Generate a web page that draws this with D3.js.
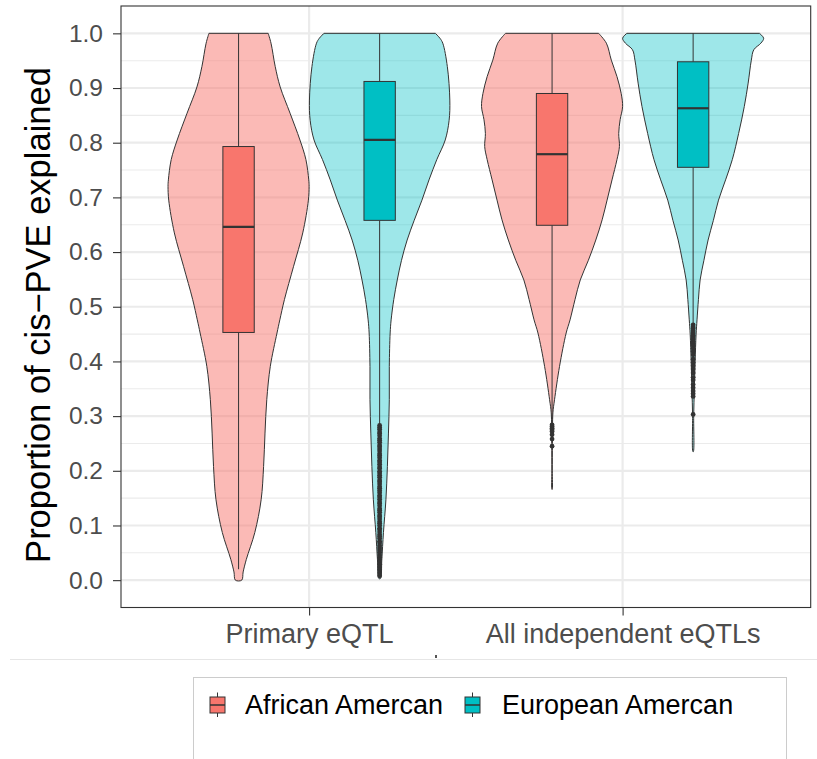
<!DOCTYPE html>
<html>
<head>
<meta charset="utf-8">
<script src="https://cdn.jsdelivr.net/npm/d3@7"></script>
<style>
  html, body { margin: 0; padding: 0; background: #ffffff; }
  svg { display: block; font-family: "Liberation Sans", Arial, Helvetica, sans-serif; }
</style>
</head>
<body>
<svg id="chart" width="817" height="759"></svg>
<script>
// ---------------- DATA ----------------
const categories = ["Primary eQTL", "All independent eQTLs"];
const groups = ["African Amercan", "European Amercan"];
const yTicks = [0.0, 0.1, 0.2, 0.3, 0.4, 0.5, 0.6, 0.7, 0.8, 0.9, 1.0];
const yTitle = "Proportion of cis\u2212PVE explained";

// Violin profiles: value levels (descending) and relative density (1 = widest)
const aaPrimaryLevels  = [1.0, 0.982, 0.939, 0.902, 0.854, 0.805, 0.769, 0.732, 0.72, 0.695, 0.635, 0.574, 0.513, 0.476, 0.452, 0.391, 0.330, 0.269, 0.208, 0.147, 0.087, 0.038, 0.015, 0.0];
const aaPrimaryDensity = [0.42, 0.46, 0.52, 0.59, 0.73, 0.87, 0.955, 0.995, 1.0, 0.99, 0.91, 0.78, 0.65, 0.585, 0.545, 0.45, 0.40, 0.375, 0.355, 0.32, 0.23, 0.11, 0.065, 0.045];

const eaPrimaryLevels  = [1.0, 0.991, 0.982, 0.939, 0.878, 0.841, 0.805, 0.769, 0.732, 0.695, 0.658, 0.622, 0.585, 0.549, 0.513, 0.476, 0.452, 0.391, 0.330, 0.269, 0.208, 0.147, 0.087, 0.038, 0.003];
const eaPrimaryDensity = [0.79, 0.855, 0.895, 0.96, 0.995, 0.985, 0.93, 0.81, 0.70, 0.60, 0.49, 0.39, 0.31, 0.25, 0.20, 0.163, 0.149, 0.137, 0.137, 0.125, 0.11, 0.089, 0.054, 0.031, 0.011];

const aaIndepLevels  = [1.0, 0.982, 0.951, 0.921, 0.890, 0.866, 0.842, 0.817, 0.793, 0.769, 0.732, 0.695, 0.659, 0.622, 0.585, 0.549, 0.513, 0.476, 0.452, 0.391, 0.330, 0.306, 0.25, 0.20, 0.166];
const aaIndepDensity = [0.66, 0.77, 0.84, 0.92, 0.98, 1.0, 0.965, 0.945, 0.955, 0.92, 0.85, 0.78, 0.71, 0.62, 0.515, 0.40, 0.325, 0.255, 0.20, 0.106, 0.035, 0.012, 0.005, 0.003, 0.002];

const eaIndepLevels  = [1.0, 0.991, 0.982, 0.970, 0.951, 0.909, 0.866, 0.817, 0.769, 0.732, 0.695, 0.658, 0.622, 0.585, 0.549, 0.513, 0.476, 0.45, 0.40, 0.35, 0.30, 0.235];
const eaIndepDensity = [0.94, 1.0, 0.96, 0.86, 0.825, 0.78, 0.725, 0.645, 0.555, 0.46, 0.36, 0.287, 0.212, 0.153, 0.099, 0.075, 0.055, 0.042, 0.028, 0.017, 0.008, 0.003];

// Box statistics, one entry per category
const aaQ1 = [0.453, 0.649];
const aaMedian = [0.646, 0.779];
const aaQ3 = [0.793, 0.890];
const aaWhiskerLow = [0.02, 0.29];
const aaWhiskerHigh = [1.0, 1.0];

const eaQ1 = [0.658, 0.755];
const eaMedian = [0.805, 0.863];
const eaQ3 = [0.912, 0.948];
const eaWhiskerLow = [0.285, 0.468];
const eaWhiskerHigh = [1.0, 1.0];

// Outliers
const aaPrimaryOutliers = [];
const aaIndepOutliers = [0.284, 0.281, 0.278, 0.275, 0.272, 0.266, 0.258, 0.245];
const eaPrimaryOutliers = [0.283, 0.279, 0.276, 0.271, 0.268, 0.264, 0.259, 0.256, 0.252, 0.247, 0.244, 0.240, 0.236, 0.231, 0.228, 0.224, 0.219, 0.216, 0.212, 0.207, 0.204, 0.199, 0.196, 0.192, 0.188, 0.183, 0.180, 0.176, 0.171, 0.168, 0.164, 0.160, 0.155, 0.152, 0.148, 0.143, 0.140, 0.136, 0.131, 0.128, 0.124, 0.119, 0.116, 0.112, 0.107, 0.104, 0.100, 0.095, 0.092, 0.088, 0.083, 0.080, 0.076, 0.071, 0.068, 0.063, 0.059, 0.055, 0.051, 0.046, 0.042, 0.038, 0.033, 0.029, 0.024, 0.019, 0.013, 0.008];
const eaIndepOutliers = [0.467, 0.463, 0.460, 0.456, 0.452, 0.448, 0.445, 0.441, 0.437, 0.433, 0.429, 0.424, 0.418, 0.412, 0.404, 0.398, 0.392, 0.386, 0.379, 0.371, 0.366, 0.358, 0.352, 0.346, 0.341, 0.336, 0.303];

// ---------------- BUILD ----------------
const violins = [
  {cat: categories[0], grp: groups[0], levels: aaPrimaryLevels, density: aaPrimaryDensity, outliers: aaPrimaryOutliers, q1: aaQ1[0], med: aaMedian[0], q3: aaQ3[0], lo: aaWhiskerLow[0], hi: aaWhiskerHigh[0]},
  {cat: categories[0], grp: groups[1], levels: eaPrimaryLevels, density: eaPrimaryDensity, outliers: eaPrimaryOutliers, q1: eaQ1[0], med: eaMedian[0], q3: eaQ3[0], lo: eaWhiskerLow[0], hi: eaWhiskerHigh[0]},
  {cat: categories[1], grp: groups[0], levels: aaIndepLevels, density: aaIndepDensity, outliers: aaIndepOutliers, q1: aaQ1[1], med: aaMedian[1], q3: aaQ3[1], lo: aaWhiskerLow[1], hi: aaWhiskerHigh[1]},
  {cat: categories[1], grp: groups[1], levels: eaIndepLevels, density: eaIndepDensity, outliers: eaIndepOutliers, q1: eaQ1[1], med: eaMedian[1], q3: eaQ3[1], lo: eaWhiskerLow[1], hi: eaWhiskerHigh[1]}
];

const fillColor = d3.scaleOrdinal().domain(groups).range(["#F8766D", "#00BFC4"]);
const violinOpacity = d3.scaleOrdinal().domain(groups).range([0.5, 0.38]);
const dark = "#333333";
const gridCol = "#EBEBEB";
const textCol = "#4D4D4D";

const panel = {left: 121, right: 810.7, top: 6, bottom: 607.5};

const svg = d3.select("#chart");

const x = d3.scalePoint().domain(categories).range([panel.left, panel.right]).padding(0.6);
const step = x.step();
const xGroup = d3.scaleBand().domain(groups).range([-0.45 * step, 0.45 * step]).paddingInner(0).paddingOuter(0);
const y = d3.scaleLinear().domain([-0.05, 1.05]).range([panel.bottom, panel.top]);
const halfWidth = d3.scaleLinear().domain([0, 1]).range([0, xGroup.bandwidth() / 2]);
const boxHalf = 0.05 * step;

// Background panel
svg.append("rect").attr("x", panel.left).attr("y", panel.top)
  .attr("width", panel.right - panel.left).attr("height", panel.bottom - panel.top)
  .attr("fill", "#ffffff");

// Grid lines
const grid = svg.append("g");
const minorTicks = d3.range(0.05, 1.0, 0.1);
grid.selectAll("line.minor").data(minorTicks).join("line")
  .attr("x1", panel.left).attr("x2", panel.right)
  .attr("y1", d => y(d)).attr("y2", d => y(d))
  .attr("stroke", gridCol).attr("stroke-width", 1.1);
grid.selectAll("line.major").data(yTicks).join("line")
  .attr("x1", panel.left).attr("x2", panel.right)
  .attr("y1", d => y(d)).attr("y2", d => y(d))
  .attr("stroke", gridCol).attr("stroke-width", 2.2);
grid.selectAll("line.vmajor").data(categories).join("line")
  .attr("x1", d => x(d)).attr("x2", d => x(d))
  .attr("y1", panel.top).attr("y2", panel.bottom)
  .attr("stroke", gridCol).attr("stroke-width", 2.2);

// Violins
const line = d3.line().curve(d3.curveCatmullRom.alpha(0.5));
const vg = svg.append("g");
violins.forEach(v => {
  const cx = x(v.cat) + xGroup(v.grp) + xGroup.bandwidth() / 2;
  v.cx = cx;
  const right = v.levels.map((lv, i) => [cx + halfWidth(v.density[i]), y(lv)]);
  const left = v.levels.map((lv, i) => [cx - halfWidth(v.density[i]), y(lv)]).reverse();
  const pts = right.concat(left);
  vg.append("path")
    .attr("d", line(pts) + "Z")
    .attr("fill", fillColor(v.grp))
    .attr("fill-opacity", violinOpacity(v.grp))
    .attr("stroke", dark)
    .attr("stroke-width", 1);
});

// Boxplots
const bg = svg.append("g");
violins.forEach(v => {
  const cx = v.cx;
  bg.append("line").attr("x1", cx).attr("x2", cx)
    .attr("y1", y(v.q3)).attr("y2", y(v.hi))
    .attr("stroke", dark).attr("stroke-width", 1);
  bg.append("line").attr("x1", cx).attr("x2", cx)
    .attr("y1", y(v.q1)).attr("y2", y(v.lo))
    .attr("stroke", dark).attr("stroke-width", 1);
  bg.append("rect")
    .attr("x", cx - boxHalf).attr("y", y(v.q3))
    .attr("width", 2 * boxHalf).attr("height", y(v.q1) - y(v.q3))
    .attr("fill", fillColor(v.grp))
    .attr("stroke", dark).attr("stroke-width", 1);
  bg.append("line").attr("x1", cx - boxHalf).attr("x2", cx + boxHalf)
    .attr("y1", y(v.med)).attr("y2", y(v.med))
    .attr("stroke", dark).attr("stroke-width", 2.2);
  bg.selectAll(null).data(v.outliers).join("circle")
    .attr("cx", cx).attr("cy", d => y(d)).attr("r", 2.4)
    .attr("fill", dark);
});

// Panel border
svg.append("rect").attr("x", panel.left).attr("y", panel.top)
  .attr("width", panel.right - panel.left).attr("height", panel.bottom - panel.top)
  .attr("fill", "none").attr("stroke", dark).attr("stroke-width", 1.1);

// Y axis
const yAxis = svg.append("g").attr("transform", `translate(${panel.left},0)`)
  .call(d3.axisLeft(y).tickValues(yTicks).tickFormat(d3.format(".1f")).tickSize(8).tickPadding(10));
yAxis.select(".domain").remove();
yAxis.selectAll(".tick line").attr("stroke", dark).attr("stroke-width", 1.1);
yAxis.selectAll(".tick text").attr("fill", textCol).attr("font-size", 24.5)
  .attr("font-family", "Liberation Sans, Arial, sans-serif");

// X axis
const xAxis = svg.append("g").attr("transform", `translate(0,${panel.bottom})`)
  .call(d3.axisBottom(x).tickSize(8).tickPadding(8));
xAxis.select(".domain").remove();
xAxis.selectAll(".tick line").attr("stroke", dark).attr("stroke-width", 1.1);
xAxis.selectAll(".tick text").attr("fill", textCol).attr("font-size", 27)
  .attr("font-family", "Liberation Sans, Arial, sans-serif");

// Y title
svg.append("text")
  .attr("transform", "translate(50,315) rotate(-90)")
  .attr("text-anchor", "middle")
  .attr("font-size", 34.5)
  .attr("fill", "#000000")
  .text(yTitle);

// Separator line and small mark below axis
svg.append("line").attr("x1", 10).attr("x2", 817).attr("y1", 659.5).attr("y2", 659.5)
  .attr("stroke", "#E6E6E6").attr("stroke-width", 1);
svg.append("rect").attr("x", 435).attr("y", 655).attr("width", 2).attr("height", 3).attr("fill", "#555");

// Legend
const lg = svg.append("g");
lg.append("rect").attr("x", 193.5).attr("y", 677.5).attr("width", 593).attr("height", 120)
  .attr("fill", "#ffffff").attr("stroke", "#CCCCCC").attr("stroke-width", 1);
const legendX = [217.5, 472.5];
const legendTextX = [245, 502];
groups.forEach((g, i) => {
  const kx = legendX[i];
  lg.append("line").attr("x1", kx).attr("x2", kx).attr("y1", 692.5).attr("y2", 717)
    .attr("stroke", dark).attr("stroke-width", 1);
  lg.append("rect").attr("x", kx - 7.5).attr("y", 697).attr("width", 15).attr("height", 16)
    .attr("fill", fillColor(g)).attr("stroke", dark).attr("stroke-width", 1);
  lg.append("line").attr("x1", kx - 7.5).attr("x2", kx + 7.5).attr("y1", 705).attr("y2", 705)
    .attr("stroke", dark).attr("stroke-width", 1.5);
  lg.append("text").attr("x", legendTextX[i]).attr("y", 714)
    .attr("font-size", 27).attr("fill", "#000000").text(g);
});
</script>
</body>
</html>
